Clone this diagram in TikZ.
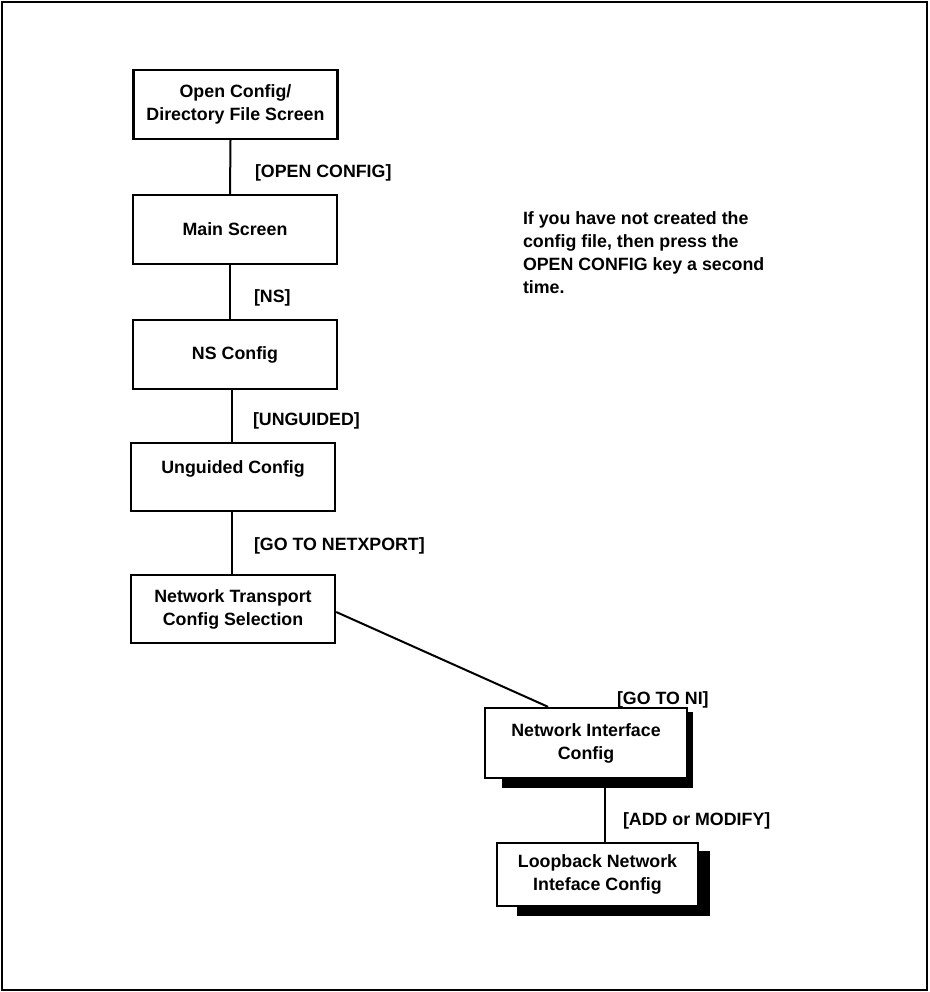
\documentclass[tikz,border=0pt]{standalone}
\usepackage{fontspec}
\setmainfont{Liberation Sans}
\usetikzlibrary{calc,backgrounds}

\begin{document}
\begin{tikzpicture}[x=1pt,y=-1pt,line width=2pt,
  box/.style={draw,line width=2.4pt,fill=white,minimum width=204pt,minimum height=69pt,
    align=center,inner sep=0pt,font=\fontsize{17.8}{23}\selectfont\bfseries},
  lbl/.style={anchor=base west,inner sep=0pt,font=\fontsize{17.8}{23}\selectfont\bfseries},
  shade/.style={fill=black}]
  \useasboundingbox (0,0) rectangle (929,992);
  \draw[line width=2.2pt] (2,2) rectangle (927,990);

  % the chain of screens
  \node[box] (ocf) at (235.5,104.5) {Open Config/\\Directory File Screen};
  \node[box] (main) at (235,229.5) {Main Screen};
  \node[box] (ns) at (235,354.5) {NS Config};
  \node[box,minimum height=68pt] (ung) at (233,477) {Unguided Config\\[-4pt]\mbox{}};
  \node[box,minimum height=68pt] (ntc) at (233,609) {Network Transport\\Config Selection};
  \node[box,minimum width=202pt,minimum height=70pt] (ni) at (586,743) {Network Interface\\Config};
  \node[box,minimum width=201pt,minimum height=63pt] (lb) at (597.5,874.5) {Loopback Network\\Inteface Config};

  \begin{scope}[on background layer]
    \fill[shade] ($(ni.south west)+(18,9)$) rectangle ($(ni.north east)+(5,5)$);
    \fill[shade] ($(lb.south west)+(21,9)$) rectangle ($(lb.north east)+(11,9)$);
  \end{scope}

  \draw ([xshift=-5pt]ocf.south) -- ([xshift=-5pt]main.north);
  \draw ([xshift=-5pt]main.south) -- ([xshift=-5pt]ns.north);
  \draw ([xshift=-3pt]ns.south) -- ([xshift=-3pt]ns.south |- ung.north);
  \draw ([xshift=-1pt]ung.south) -- ([xshift=-1pt]ntc.north);
  \draw ([yshift=-3pt]ntc.east) -- ([xshift=-38pt]ni.north);
  \draw ([xshift=19pt]ni.south) -- ([xshift=19pt]ni.south |- lb.north);

  % keys
  \node[lbl] (kopen) at (254,178) {[OPEN CONFIG]};
  \node[lbl] (kns) at (253,302) {[NS]};
  \node[lbl] (kung) at (252,425) {[UNGUIDED]};
  \node[lbl] (knet) at (253,550) {[GO TO NETXPORT]};
  \node[lbl] (kni) at (616,704) {[GO TO NI]};
  \node[lbl] (kadd) at (622,825) {[ADD or MODIFY]};

  \node[lbl,anchor=north west,align=left] (note) at (522,211)
    {If you have not created the\\config file, then press the\\OPEN CONFIG key a second\\time.};
\end{tikzpicture}
\end{document}
